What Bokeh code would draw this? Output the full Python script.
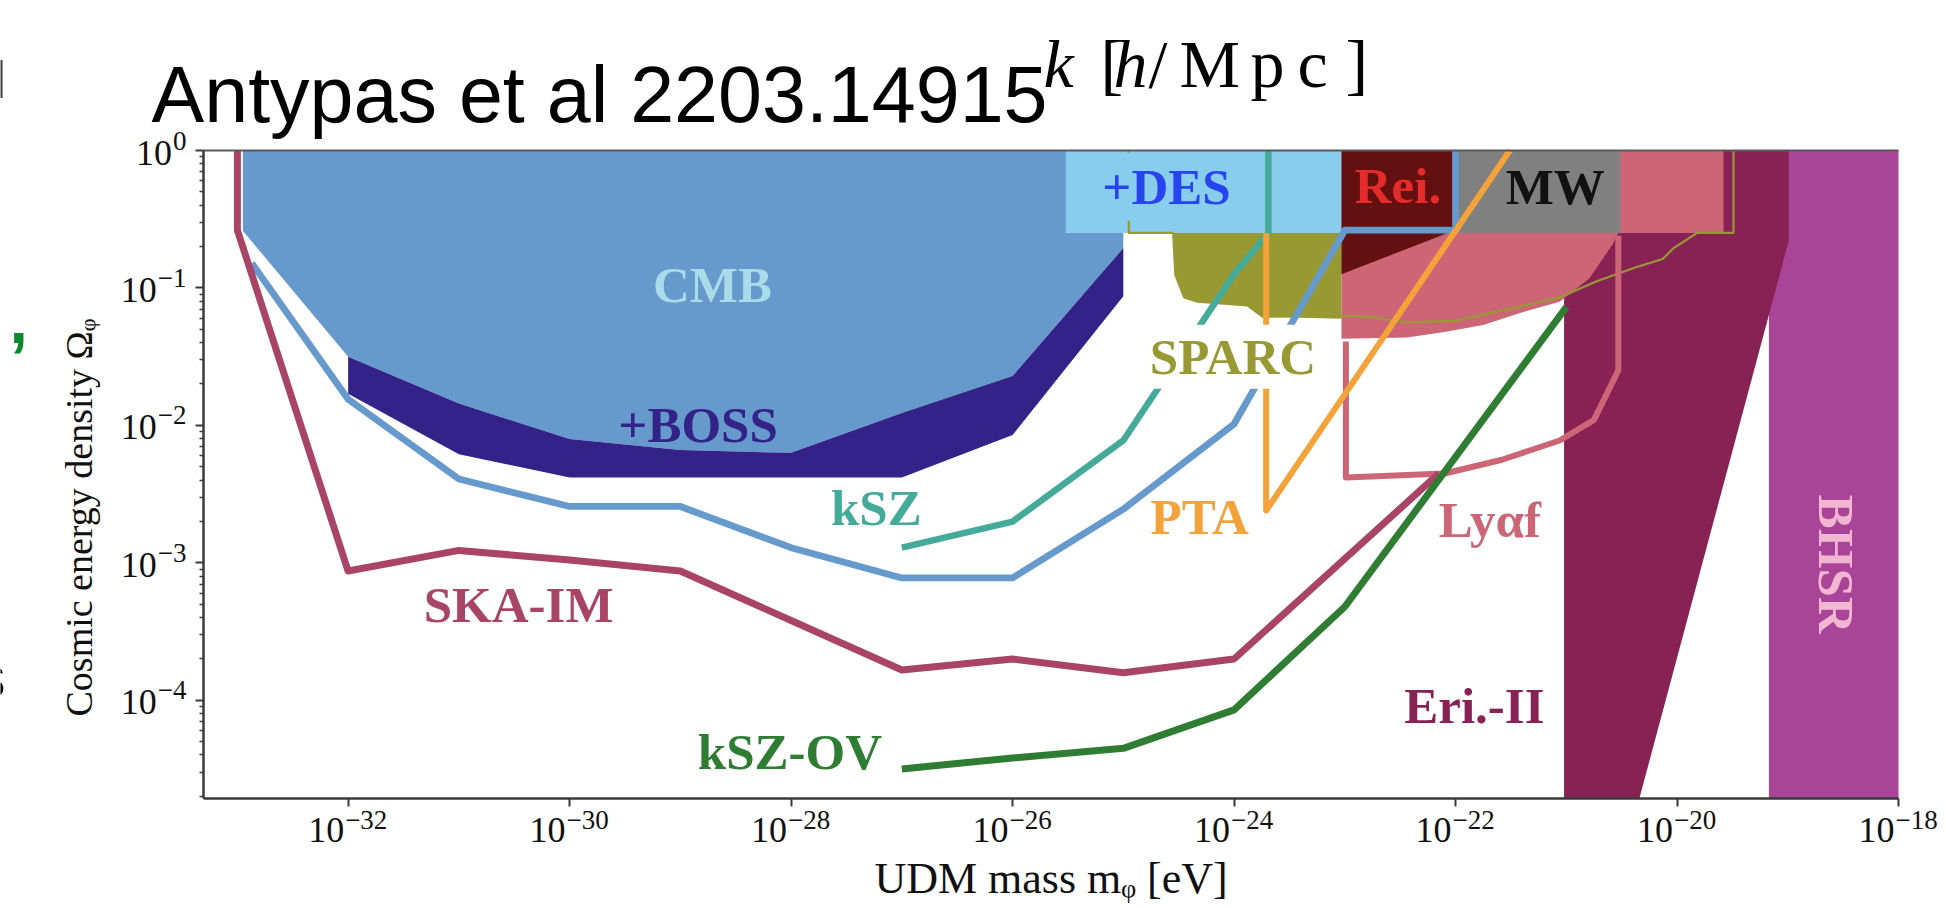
import math
from bokeh.plotting import figure
from bokeh.models import Label, FixedTicker, CustomJSTickFormatter
from bokeh.embed import file_html
from bokeh.resources import INLINE

# ---------------------------------------------------------------------------
# Page geometry (pixels).  The data rectangle sits inside a frame that fills
# the whole page, so headings and tick labels can live in the same frame.
W, H = 1946, 908
BOX_L, BOX_R, BOX_T, BOX_B = 203, 1898, 150, 798

# Axis limits, log10 units
LOG_M_MIN, LOG_M_MAX = -33.306, -18.0
LOG_O_MIN, LOG_O_MAX = -4.715, 0.0

PXX = (BOX_R - BOX_L) / (LOG_M_MAX - LOG_M_MIN)   # pixels per decade in mass
PXY = (BOX_B - BOX_T) / (LOG_O_MAX - LOG_O_MIN)   # pixels per decade in Omega

X_TICK_EXP = [-32, -30, -28, -26, -24, -22, -20, -18]
Y_TICK_EXP = [0, -1, -2, -3, -4]

# ---------------------------------------------------------------------------
# Excluded regions: log10(m_phi / eV) and log10(Omega_phi)
CMB_LOGM = [-32.95, -32.95, -32.0, -31.0, -30.0, -29.0, -28.0, -27.0, -26.0, -25.0, -25.0]
CMB_LOGO = [0.0, -0.585, -1.50, -1.84, -2.10, -2.18, -2.20, -1.91, -1.64, -0.71, 0.0]

BOSS_LOGM = [-32.0, -31.0, -30.0, -29.0, -28.0, -27.0, -26.0, -25.0,
             -25.0, -26.0, -27.0, -28.0, -29.0, -30.0, -31.0, -32.0]
BOSS_LOGO = [-1.50, -1.84, -2.10, -2.18, -2.20, -1.91, -1.64, -0.71,
             -1.06, -2.07, -2.38, -2.38, -2.38, -2.38, -2.21, -1.77]

DES_LOGM = [-25.52, -23.03]          # left, right
DES_LOGO = [-0.60, 0.0]              # bottom, top

SPARC_LOGM = [-24.55, -24.53, -24.45, -24.33, -23.88, -23.74, -23.03, -23.03]
SPARC_LOGO = [-0.60, -0.905, -1.07, -1.10, -1.127, -1.21, -1.225, -0.60]

SPARC_EDGE_LOGM = [-24.95, -24.95, -24.55, -24.53, -24.45, -24.33, -23.88, -23.74,
                   -23.03, -22.79, -22.44, -21.99, -21.06, -20.72, -20.37, -20.13,
                   -20.03, -19.82, -19.49, -19.49]
SPARC_EDGE_LOGO = [0.0, -0.60, -0.60, -0.905, -1.07, -1.10, -1.127, -1.21,
                   -1.20, -1.21, -1.25, -1.24, -1.07, -0.95, -0.85, -0.79,
                   -0.71, -0.60, -0.60, 0.0]

REI_LOGM = [-23.03, -22.0, -22.0, -22.10, -23.03]
REI_LOGO = [0.0, 0.0, -0.58, -0.61, -0.90]

MW_LOGM = [-22.0, -20.51]
MW_LOGO = [-0.60, 0.0]

LYA_LOGM = [-23.03, -19.58, -19.58, -20.53, -20.58, -20.79, -21.06, -21.41,
            -21.75, -22.10, -22.44, -23.03]
LYA_LOGO = [0.0, 0.0, -0.60, -0.60, -0.68, -0.93, -1.10, -1.18,
            -1.27, -1.32, -1.36, -1.37]

LYA_FC_LOGM = [-22.99, -22.99, -22.10, -21.58, -21.06, -20.75, -20.53, -20.53]
LYA_FC_LOGO = [-1.39, -2.38, -2.35, -2.25, -2.11, -1.96, -1.60, -0.62]

ERI_LOGM = [-21.02, -21.02, -18.99, -18.99, -20.34]
ERI_LOGO = [-4.715, 0.0, 0.0, -0.654, -4.715]

BHSR_LOGM = [-19.17, -18.0]
BHSR_LOGO = [-4.715, 0.0]

# Forecast sensitivity curves
SKA_LOGM = [-33.0, -33.0, -32.0, -31.0, -30.0, -29.0, -28.0, -27.0, -26.0, -25.0, -24.0, -22.15]
SKA_LOGO = [0.0, -0.58, -3.06, -2.91, -2.98, -3.06, -3.42, -3.78, -3.70, -3.80, -3.70, -2.35]

S4_LOGM = [-32.87, -32.0, -31.0, -30.0, -29.0, -28.0, -27.0, -26.0, -25.0, -24.0, -23.0, -22.0, -22.0]
S4_LOGO = [-0.82, -1.81, -2.39, -2.59, -2.59, -2.89, -3.11, -3.11, -2.61, -1.99, -0.58, -0.58, 0.0]

KSZ_LOGM = [-27.0, -26.0, -25.0, -24.0, -23.69, -23.69]
KSZ_LOGO = [-2.89, -2.70, -2.11, -0.90, -0.60, 0.0]

PTA_LOGM = [-23.71, -23.71, -21.51]
PTA_LOGO = [-0.60, -2.62, 0.0]

KSZOV_LOGM = [-27.0, -26.0, -25.0, -24.0, -23.0, -21.0]
KSZOV_LOGO = [-4.50, -4.42, -4.35, -4.07, -3.32, -1.14]

# Region / curve names and where they are written
LABEL_TEXT = ["CMB", "+BOSS", "SKA-IM", "kSZ", "kSZ-OV", "SPARC", "PTA",
              "Rei.", "MW", "Ly\u03b1f", "Eri.-II"]
LABEL_LOGM = [-28.71, -28.84, -30.46, -27.23, -28.01, -24.01, -24.31,
              -22.52, -21.10, -21.69, -21.83]
LABEL_LOGO = [-0.98, -2.00, -3.31, -2.60, -4.38, -1.50, -2.67,
              -0.259, -0.264, -2.69, -4.04]
LABEL_COLOR = ["#A9DCE8", "#332288", "#AA4466", "#44AA99", "#2E7D32", "#999933", "#F4A33A",
               "#E62B2B", "#111111", "#CC6677", "#882255"]

DES_LABEL = ("+DES", -24.61, -0.264)
BHSR_LABEL = ("BHSR", -18.56, -3.01)


def pw(vals):
    return [10.0 ** v for v in vals]


def xpx(px):
    """data x for a horizontal page position"""
    return 10.0 ** (LOG_M_MIN + (px - BOX_L) / PXX)


def ypx(py):
    """data y for a vertical page position"""
    return 10.0 ** (LOG_O_MAX - (py - BOX_T) / PXY)


SERIF = "Liberation Serif"
SANS = "Liberation Sans"
SERIF_CAP, SANS_CAP = 0.331, 0.358     # half cap height / font size


def mid(baseline_px, size, half_cap=SERIF_CAP):
    """centre line of capitals for text sitting on a given baseline"""
    return ypx(baseline_px - half_cap * size)


INK = "#111111"

p = figure(width=W, height=H,
           x_axis_type="log", y_axis_type="log",
           x_axis_location="above", y_axis_location="right",
           x_range=(xpx(0), xpx(W)), y_range=(ypx(H), ypx(0)),
           output_backend="svg", toolbar_location=None, title=None,
           min_border=0, min_border_left=0, min_border_right=0,
           min_border_top=0, min_border_bottom=0)
p.background_fill_color = "white"
p.border_fill_color = "white"
p.outline_line_color = None
p.xgrid.visible = False
p.ygrid.visible = False

# Axes pinned to the edges of the data rectangle; ticks point away from it.
blank = CustomJSTickFormatter(code="return ''")
for ax in (p.xaxis[0], p.yaxis[0]):
    ax.axis_line_color = "#3a3a3a"
    ax.axis_line_width = 2.5
    ax.major_tick_line_color = "#3a3a3a"
    ax.major_tick_line_width = 2
    ax.minor_tick_line_color = "#3a3a3a"
    ax.minor_tick_line_width = 1.5
    ax.major_tick_out = 0
    ax.major_tick_in = 8
    ax.minor_tick_out = 0
    ax.minor_tick_in = 4
    ax.formatter = blank
    ax.major_label_text_font_size = "1px"
    ax.major_label_standoff = 0

p.xaxis.fixed_location = 10.0 ** LOG_O_MIN
p.xaxis.bounds = (10.0 ** LOG_M_MIN, 10.0 ** LOG_M_MAX)
p.xaxis.ticker = FixedTicker(ticks=pw(X_TICK_EXP), minor_ticks=[])

p.yaxis.fixed_location = 10.0 ** LOG_M_MIN
p.yaxis.bounds = (10.0 ** LOG_O_MIN, 10.0 ** LOG_O_MAX)
y_minor = [k * 10.0 ** e for e in range(-5, 0) for k in range(2, 10)]
p.yaxis.ticker = FixedTicker(ticks=pw(Y_TICK_EXP), minor_ticks=y_minor)

# ---------------------------------------------------------------------------
# filled regions (back to front)
p.quad(left=10.0 ** BHSR_LOGM[0], right=10.0 ** BHSR_LOGM[1],
       bottom=10.0 ** BHSR_LOGO[0], top=10.0 ** BHSR_LOGO[1],
       fill_color="#AA4499", line_color=None)
p.patch(pw(ERI_LOGM), pw(ERI_LOGO), fill_color="#882255", line_color=None)
p.patch(pw(LYA_LOGM), pw(LYA_LOGO), fill_color="#CC6677", line_color=None)
p.patch(pw(SPARC_LOGM), pw(SPARC_LOGO), fill_color="#999933", line_color=None)
p.patch(pw(CMB_LOGM), pw(CMB_LOGO), fill_color="#6699CC", line_color=None)
p.patch(pw(BOSS_LOGM), pw(BOSS_LOGO), fill_color="#332288", line_color=None)
p.quad(left=10.0 ** DES_LOGM[0], right=10.0 ** DES_LOGM[1],
       bottom=10.0 ** DES_LOGO[0], top=10.0 ** DES_LOGO[1],
       fill_color="#88CCEE", line_color=None)
p.patch(pw(REI_LOGM), pw(REI_LOGO), fill_color="#641010", line_color=None)
p.quad(left=10.0 ** MW_LOGM[0], right=10.0 ** MW_LOGM[1],
       bottom=10.0 ** MW_LOGO[0], top=10.0 ** MW_LOGO[1],
       fill_color="#808080", line_color=None)

# curves
p.line(pw(SPARC_EDGE_LOGM), pw(SPARC_EDGE_LOGO), line_color="#999933", line_width=2.2)
p.line(pw(LYA_FC_LOGM), pw(LYA_FC_LOGO), line_color="#CC6677", line_width=6,
       line_join="round")
p.line(pw(S4_LOGM), pw(S4_LOGO), line_color="#6699CC", line_width=6.8, line_join="round")
p.line(pw(KSZ_LOGM), pw(KSZ_LOGO), line_color="#44AA99", line_width=6.5, line_join="round")
p.line(pw(SKA_LOGM), pw(SKA_LOGO), line_color="#AA4466", line_width=7, line_join="round")
p.line(pw(PTA_LOGM), pw(PTA_LOGO), line_color="#F4A33A", line_width=6, line_join="round")
p.line(pw(KSZOV_LOGM), pw(KSZOV_LOGO), line_color="#2E7D32", line_width=7,
       line_join="round")

# upper edge of the data rectangle
p.line(pw([LOG_M_MIN, LOG_M_MAX]), pw([LOG_O_MAX, LOG_O_MAX]),
       line_color="#5a5a5a", line_width=1.8)

# ---------------------------------------------------------------------------
# region labels
LABEL_SIZE = "51px"
for txt, lm, lo, col in zip(LABEL_TEXT, LABEL_LOGM, LABEL_LOGO, LABEL_COLOR):
    kw = {}
    if txt == "SPARC":
        kw = dict(background_fill_color="white", background_fill_alpha=1.0, padding=4)
    p.add_layout(Label(x=10.0 ** lm, y=10.0 ** lo, text=txt, text_color=col,
                       text_font=SERIF, text_font_style="bold",
                       text_font_size=LABEL_SIZE,
                       text_align="center", text_baseline="middle", **kw))

p.add_layout(Label(x=10.0 ** DES_LABEL[1], y=10.0 ** DES_LABEL[2], text=DES_LABEL[0],
                   text_color="#2744F0", text_font=SERIF, text_font_style="bold",
                   text_font_size=LABEL_SIZE, text_align="center", text_baseline="middle",
                   background_fill_color="#88CCEE", background_fill_alpha=1.0,
                   padding=(16, 6)))
p.add_layout(Label(x=10.0 ** BHSR_LABEL[1], y=10.0 ** BHSR_LABEL[2], text=BHSR_LABEL[0],
                   text_color="#F2B6D2", text_font=SERIF, text_font_style="bold",
                   text_font_size=LABEL_SIZE, text_align="center", text_baseline="middle",
                   angle=-math.pi / 2))

# ---------------------------------------------------------------------------
# tick labels  10^n
BASE_SIZE, EXP_SIZE = 36, 27
for e in X_TICK_EXP:
    p.add_layout(Label(x=10.0 ** e, y=mid(841, BASE_SIZE), x_offset=-4, text="10",
                       text_align="right", text_baseline="middle", text_font=SERIF,
                       text_font_size=f"{BASE_SIZE}px", text_color=INK))
    p.add_layout(Label(x=10.0 ** e, y=mid(828, EXP_SIZE), x_offset=-3,
                       text="\u2212" + str(abs(e)), text_align="left",
                       text_baseline="middle", text_font=SERIF,
                       text_font_size=f"{EXP_SIZE}px", text_color=INK))

for e in Y_TICK_EXP:
    exp_txt = "0" if e == 0 else "\u2212" + str(abs(e))
    exp_w = sum(0.564 if ch == "\u2212" else 0.5 for ch in exp_txt) * EXP_SIZE
    p.add_layout(Label(x=xpx(186), y=10.0 ** e, y_offset=10,
                       text=exp_txt, text_align="right", text_baseline="middle",
                       text_font=SERIF, text_font_size=f"{EXP_SIZE}px", text_color=INK))
    p.add_layout(Label(x=xpx(185), y=10.0 ** e, x_offset=-exp_w, y_offset=-2,
                       text="10", text_align="right", text_baseline="middle",
                       text_font=SERIF, text_font_size=f"{BASE_SIZE}px", text_color=INK))

# axis titles
p.add_layout(Label(x=10.0 ** ((LOG_M_MIN + LOG_M_MAX) / 2), y=mid(893, 44),
                   text="UDM mass m\u1d69 [eV]", text_align="center",
                   text_baseline="middle", text_font=SERIF, text_font_size="44px",
                   text_color=INK))
p.add_layout(Label(x=xpx(78), y=ypx(716),
                   text="Cosmic energy density \u03a9\u1d69", angle=math.pi / 2,
                   text_align="left", text_baseline="middle", text_font=SERIF,
                   text_font_size="38px", text_color=INK))

# ---------------------------------------------------------------------------
# heading and the wavenumber caption above the data rectangle
p.add_layout(Label(x=xpx(151), y=mid(122, 79, SANS_CAP), text="Antypas et al 2203.14915",
                   text_font=SANS, text_font_size="79px", text_align="left",
                   text_baseline="middle", text_color="black"))

caption = [("k", 1043, "italic"), ("[", 1100, "normal"), ("h", 1113, "italic"),
           ("/", 1148, "normal"), ("M", 1179, "normal"), ("p", 1250, "normal"),
           ("c", 1297, "normal"), ("]", 1345, "normal")]
for txt, xp, style in caption:
    p.add_layout(Label(x=xpx(xp), y=mid(86, 68), text=txt, text_font=SERIF,
                       text_font_style=style, text_font_size="68px", text_align="left",
                       text_baseline="middle", text_color="black"))

# fragments of neighbouring slide text at the left margin
p.add_layout(Label(x=xpx(-6), y=mid(98, 52, SANS_CAP), text="l", text_font=SANS,
                   text_font_size="52px", text_baseline="middle", text_color="#444444"))
p.add_layout(Label(x=xpx(9), y=mid(343, 66, SANS_CAP), text=",", text_font=SANS,
                   text_font_style="bold", text_font_size="66px", text_baseline="middle",
                   text_color="#0B8A2E"))
p.add_layout(Label(x=xpx(-25), y=mid(697, 60, SANS_CAP), text="s", text_font=SANS,
                   text_font_size="60px", text_baseline="middle", text_color="black"))

open("out.html", "w").write(file_html(p, INLINE))
